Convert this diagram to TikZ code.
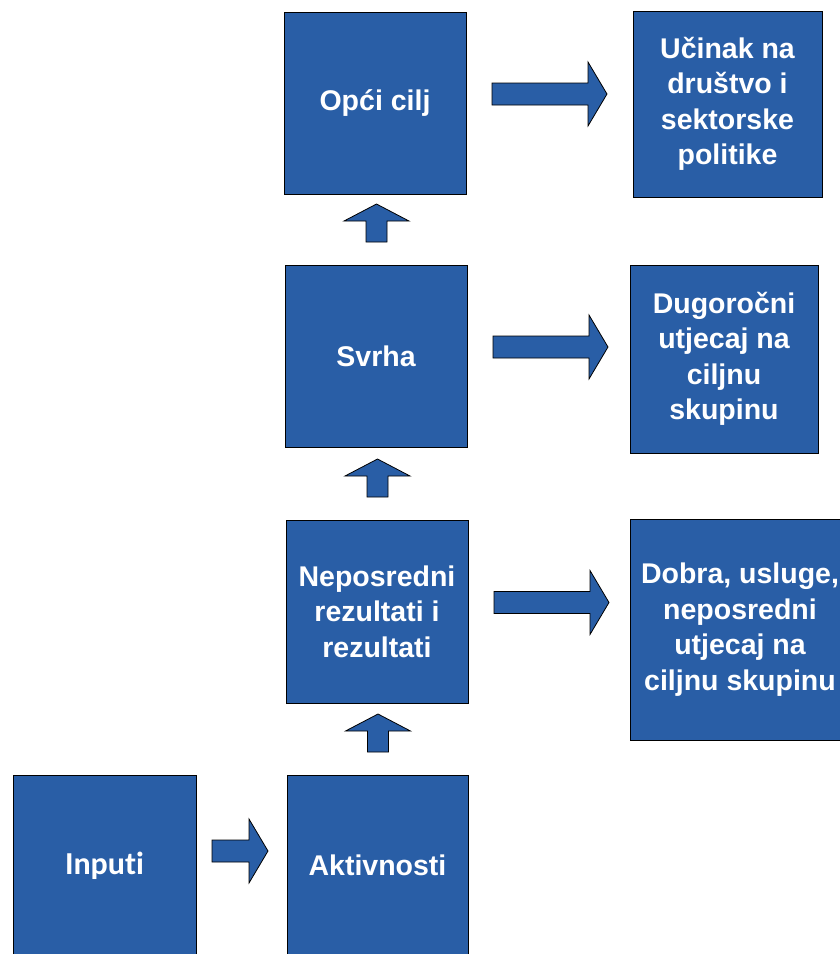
\documentclass[tikz,border=0pt]{standalone}
\usepackage{fontspec}
\setmainfont{Liberation Sans}
\newfontfamily\calibrifont[Ligatures=NoCommon]{Carlito}
\usetikzlibrary{calc}
\definecolor{boxblue}{RGB}{41,94,166}
\begin{document}
\begin{tikzpicture}[x=1pt,y=-1pt,
  box/.style={draw=black,line width=0.8pt,fill=boxblue,text=white,
    font=\bfseries\fontsize{28.5}{35.5}\selectfont,align=center,
    inner sep=0pt,outer sep=0pt,anchor=north west},
  blockarrow/.style={draw=black,line width=0.8pt,fill=boxblue},
  rarrow/.pic={\path[blockarrow] (0,-11) -- (96,-11) -- (96,-32) -- (115,0) -- (96,32) -- (96,11) -- (0,11) -- cycle;},
  shortarrow/.pic={\path[blockarrow] (0,-11) -- (37,-11) -- (37,-32) -- (56,0) -- (37,32) -- (37,11) -- (0,11) -- cycle;},
  uparrow/.pic={\path[blockarrow] (-10.5,0) -- (-10.5,-21) -- (-32.5,-21) -- (0,-38) -- (32.5,-21) -- (10.5,-21) -- (10.5,0) -- cycle;}
]
\useasboundingbox (0,0) rectangle (840,954);
\clip (0,0) rectangle (840,954);

\node[box,minimum width=182,minimum height=182] (opci) at (284,12) {Opći cilj};
\node[box,minimum width=189,minimum height=186] (ucinak) at (633,11) {Učinak na\\društvo i\\sektorske\\politike};
\node[box,minimum width=182,minimum height=182] (svrha) at (285,265) {Svrha};
\node[box,minimum width=188,minimum height=188] (dugo) at (630,265) {Dugoročni\\utjecaj na\\ciljnu\\skupinu};
\node[box,minimum width=182,minimum height=183] (nepos) at (286,520) {Neposredni\\rezultati i\\rezultati};
\node[box,minimum width=220,minimum height=221] (dobra) at (630,519) {Dobra, usluge,\\neposredni\\utjecaj na\\ciljnu skupinu};
\node[box,minimum width=183,minimum height=182,font=\calibrifont\bfseries\fontsize{32}{38}\selectfont] (inputi) at (13,775) {Inputi};
\node[box,minimum width=181,minimum height=181] (aktiv) at (287,775) {Aktivnosti};

\pic (r1) at ($(opci.east)+(26,-9)$) {rarrow};
\pic (r2) at ($(svrha.east)+(26,-9)$) {rarrow};
\pic (r3) at ($(nepos.east)+(26,-9)$) {rarrow};
\pic (r4) at ($(inputi.east)+(16,-15)$) {shortarrow};

\pic (u1) at ($(svrha.north)+(0.5,-23)$) {uparrow};
\pic (u2) at ($(nepos.north)+(0.5,-23)$) {uparrow};
\pic (u3) at ($(aktiv.north)+(0.5,-23)$) {uparrow};
\end{tikzpicture}
\end{document}
